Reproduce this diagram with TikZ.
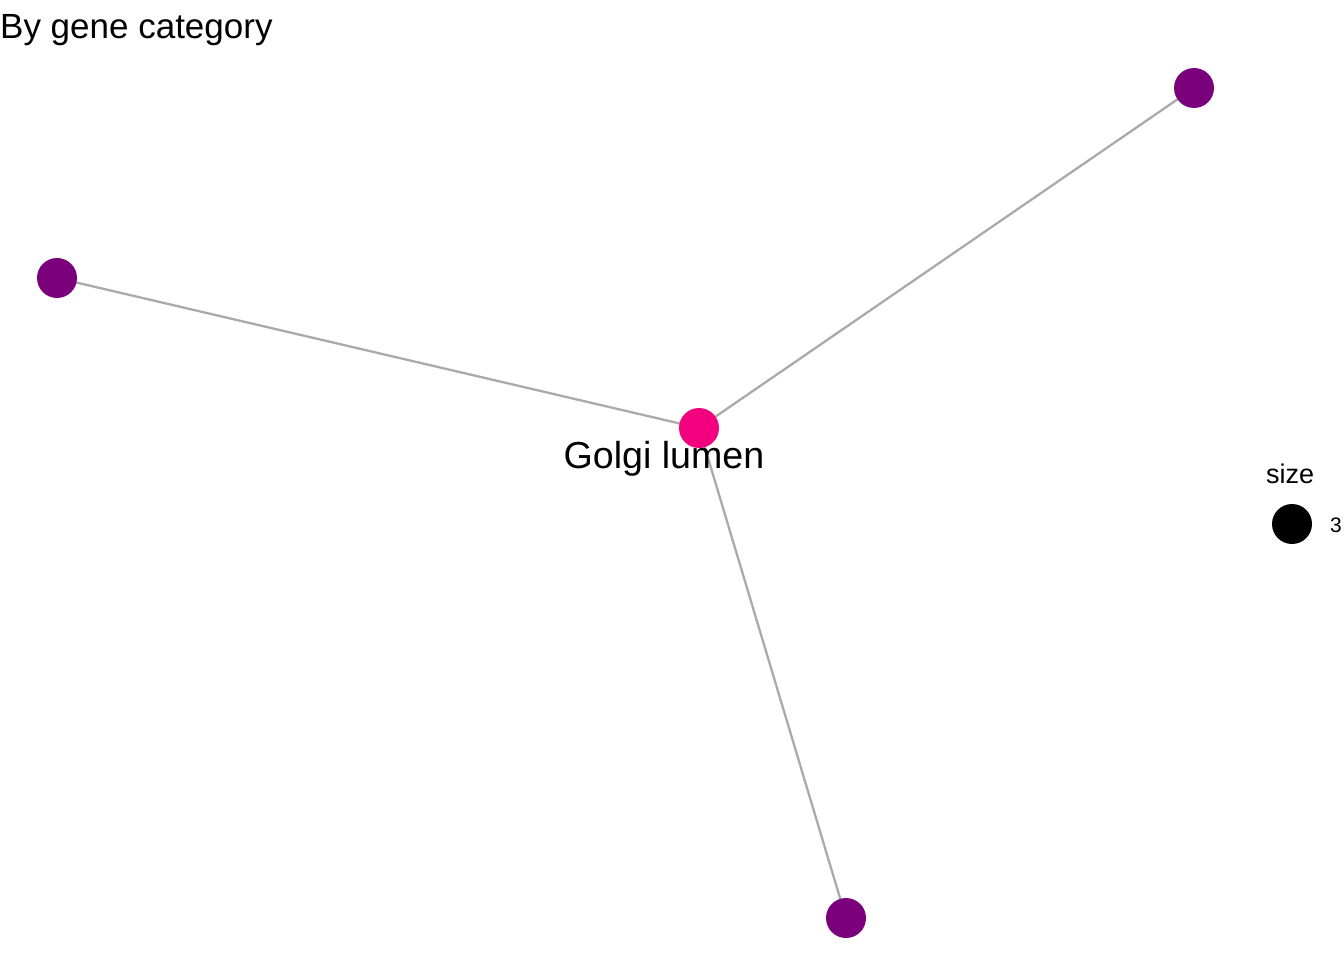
\documentclass[tikz,border=0pt]{standalone}
\usepackage{fontspec}
\setmainfont{Liberation Sans}
\definecolor{edgegray}{RGB}{170,170,170}
\definecolor{leafpurple}{RGB}{123,0,123}
\definecolor{hubpink}{RGB}{243,0,126}
\tikzset{
  leaf/.style={circle, fill=leafpurple, inner sep=0pt, minimum size=40pt},
  hub/.style={circle, fill=hubpink, inner sep=0pt, minimum size=40pt},
  edge/.style={draw=edgegray, line width=2.3pt},
  lbl/.style={inner sep=0pt, anchor=base}
}
\begin{document}
\begin{tikzpicture}[x=1pt, y=-1pt]
\useasboundingbox (0,0) rectangle (1344,960);
\node[lbl, anchor=base west, font=\fontsize{35}{38}\selectfont] (title) at (0,39) {By gene category};
\coordinate (hc) at (699,428);
\coordinate (ac) at (1194,88);
\coordinate (bc) at (57,278);
\coordinate (cc) at (846,918);
\draw[edge] (hc) -- (ac);
\draw[edge] (hc) -- (bc);
\draw[edge] (hc) -- (cc);
\node[leaf] (a) at (ac) {};
\node[leaf] (b) at (bc) {};
\node[leaf] (c) at (cc) {};
\node[hub] (h) at (hc) {};
\node[lbl, font=\fontsize{37.6}{40}\selectfont] (hl) at (664,468) {Golgi lumen};
\node[lbl, anchor=base west, font=\fontsize{27}{30}\selectfont] (sz) at (1266,483) {size};
\node[circle, fill=black, inner sep=0pt, minimum size=40pt] (ld) at (1292,524) {};
\node[lbl, anchor=base west, font=\fontsize{21}{24}\selectfont] (l3) at (1330,532) {3};
\end{tikzpicture}
\end{document}
